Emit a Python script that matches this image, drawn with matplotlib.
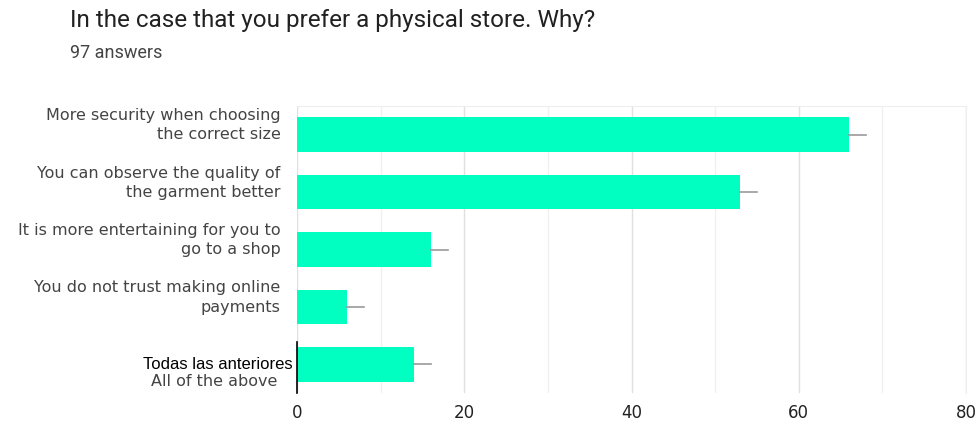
import numpy as np
import matplotlib.pyplot as plt
import matplotlib.transforms as mtransforms

categories = [
    "More security when choosing\nthe correct size",
    "You can observe the quality of\nthe garment better",
    "It is more entertaining for you to\ngo to a shop",
    "You do not trust making online\npayments",
    "",
]
last_label_top = "Todas las anteriores"
last_label_bottom = "All of the above"
counts = [66, 53, 16, 6, 14]
err = [2, 2, 2, 2, 2]
xticks = [0, 20, 40, 60, 80]

fig = plt.figure(figsize=(9.79, 4.21), dpi=100)
ax = fig.add_axes([297 / 979, 1 - 393 / 421, (966 - 297) / 979, (393 - 106) / 421])

y = np.arange(len(counts))
ax.barh(y, counts, height=0.6, color="#00ffc0", zorder=3)
# one-sided error whiskers
for yi, c, e in zip(y, counts, err):
    ax.plot([c, c + e], [yi, yi], color="#999999", lw=1.2, zorder=4)

ax.set_xlim(0, 80)
ax.set_ylim(len(counts) - 0.5, -0.5)
ax.set_xticks(xticks)
ax.set_xticks(np.arange(0, 81, 10), minor=True)
ax.grid(axis="x", which="major", color="#e0e0e0", lw=1, zorder=0)
ax.grid(axis="x", which="minor", color="#f0f0f0", lw=1, zorder=0)
ax.tick_params(axis="x", which="both", length=0, labelsize=12, labelcolor="#222222", pad=8)
ax.tick_params(axis="y", length=0, pad=17)
for s in ["left", "bottom"]:
    ax.spines[s].set_visible(False)
for s in ["top", "right"]:
    ax.spines[s].set_color("#eeeeee")

ax.set_yticks(y)
ax.set_yticklabels(categories, family="DejaVu Sans", fontsize=11.5, color="#444444",
                   ha="right", linespacing=1.35)
offset = mtransforms.ScaledTranslation(7 / 100, 13 / 100, fig.dpi_scale_trans)
for lab in ax.get_yticklabels():
    lab.set_transform(lab.get_transform() + offset)

# odd last label and the short axis segment next to it
last = len(counts) - 1
ax.text(-0.5, last, last_label_top, ha="right", va="center", fontsize=12,
        family="Liberation Sans", color="black")
ax.text(-2.3, last + 0.3, last_label_bottom, ha="right", va="center", fontsize=11.5,
        family="DejaVu Sans", color="#444444")
ax.plot([0, 0], [last - 0.38, last + 0.5], color="black", lw=1.2, zorder=5, clip_on=False)

fig.text(70 / 979, 1 - 20 / 421, "In the case that you prefer a physical store. Why?",
         family="Roboto", fontsize=17.5, color="#212121", va="center")
fig.text(70 / 979, 1 - 53 / 421, "97 answers", family="Roboto", fontsize=13,
         color="#444444", va="center")

fig.savefig("out.png", dpi=100)
